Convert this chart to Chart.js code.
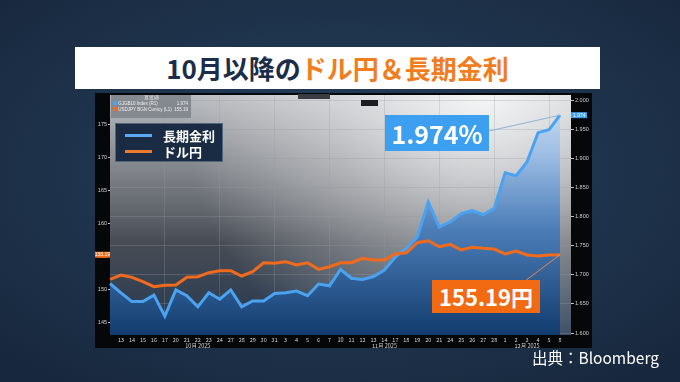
<!DOCTYPE html>
<html><head><meta charset="utf-8">
<script src="https://cdn.jsdelivr.net/npm/chart.js@4.4.1/dist/chart.umd.min.js"></script>
<style>
html,body{margin:0;padding:0;}
body{width:680px;height:382px;overflow:hidden;position:relative;
 background:radial-gradient(ellipse 75% 75% at 50% 45%, #26405d 0%, #1d3149 60%, #16263b 100%);
 font-family:'Noto Sans CJK JP','Noto Sans',sans-serif;}
.abs{position:absolute;}
#title{left:75px;top:47px;width:525px;height:42px;background:#fff;text-align:center;
 font-weight:700;font-size:26px;line-height:42px;color:#1c2d4a;letter-spacing:0px;}
#title .o{color:#f07d1e;}
#frame{left:95px;top:93px;width:497px;height:255px;background:#060709;}
#c{left:0;top:0;}
#bbg{left:111px;top:95px;width:80px;height:23px;background:rgba(128,133,140,0.92);color:#eee;font-family:'Liberation Sans',sans-serif;font-size:4.5px;line-height:6px;}
#lg{left:115px;top:123px;width:108px;height:39px;background:#1a2c44;border:1px solid #52657f;box-sizing:border-box;}
#lg .ln{position:absolute;left:9px;width:27px;height:2.5px;}
#lg .tx{position:absolute;left:47px;color:#fff;font-weight:700;font-size:13px;line-height:14px;}
#cb{left:385px;top:115px;width:104px;height:36px;background:#3d9ff0;color:#fff;font-weight:700;font-size:25px;line-height:36px;text-align:center;}
#co{left:432px;top:280px;width:108px;height:33px;background:#f26a12;color:#fff;font-weight:700;font-size:22px;line-height:33px;text-align:center;}
#src{left:532px;top:346px;color:#fff;font-size:15.5px;line-height:22px;}
</style></head>
<body>
<div id="title" class="abs">10月以降の<span class="o">ドル円＆長期金利</span></div>
<div id="frame" class="abs"></div>
<canvas id="c" class="abs" width="680" height="382"></canvas>
<div class="abs" style="left:298px;top:94px;width:32px;height:5px;background:#3a3c41;"></div>
<div class="abs" style="left:361px;top:100px;width:17px;height:6px;background:#1c1d20;"></div>
<div id="bbg" class="abs">
 <div style="text-align:center;">直近値</div>
 <div style="padding-left:2px;"><span style="display:inline-block;width:4px;height:4px;background:#4aa2f0;"></span> GJGB10 Index (R1)<span style="float:right;padding-right:3px;">1.974</span></div>
 <div style="padding-left:2px;"><span style="display:inline-block;width:4px;height:4px;background:#f26b1d;"></span> USDJPY BGN Curncy (L1)<span style="float:right;padding-right:3px;">155.19</span></div>
</div>
<div id="lg" class="abs">
 <div class="ln" style="top:10px;background:#5aaaf5;"></div>
 <div class="tx" style="top:5px;">長期金利</div>
 <div class="ln" style="top:26px;background:#ef7b2e;"></div>
 <div class="tx" style="top:21px;">ドル円</div>
</div>
<div id="cb" class="abs">1.974%</div>
<div id="co" class="abs">155.19円</div>
<div id="src" class="abs">出典：Bloomberg</div>
<script>
// ---- data ----
const categories = ['10/10','10/13','10/14','10/15','10/16','10/17','10/20','10/21','10/22','10/23','10/24','10/27','10/28','10/29','10/30','10/31',
 '11/3','11/4','11/5','11/6','11/7','11/10','11/11','11/12','11/13','11/14','11/17','11/18','11/19','11/20','11/21','11/24','11/25','11/26','11/27','11/28',
 '12/1','12/2','12/3','12/4','12/5','12/8',''];
const jgb10 = [1.685,1.669,1.654,1.654,1.665,1.629,1.674,1.664,1.645,1.669,1.658,1.674,1.645,1.655,1.655,1.668,
 1.669,1.672,1.664,1.684,1.681,1.709,1.694,1.692,1.697,1.708,1.731,1.745,1.765,1.825,1.782,1.791,1.805,1.810,1.803,1.814,
 1.875,1.870,1.894,1.944,1.949,1.974];
const usdjpy = [151.47,152.12,151.77,151.11,150.35,150.56,150.61,151.77,151.86,152.47,152.77,152.77,151.97,152.62,153.98,153.89,
 154.14,153.64,153.98,152.98,153.38,153.98,153.98,154.65,154.39,154.39,155.30,155.50,157.02,157.32,156.41,156.77,155.91,156.32,156.17,156.06,
 155.30,155.76,155.15,155.00,155.15,155.19];
const leftTicks = [145,150,155,160,165,170,175];
const rightTicks = [1.600,1.650,1.700,1.750,1.800,1.850,1.900,1.950,2.000];
const monthLabels = {'10/22':'10月 2025','11/14':'11月 2025','12/3':'12月 2025'};
const seriesNames = ['長期金利','ドル円'];

const xTickLabels = categories.map((c,i) => {
  if (!c || i === 0) return '';
  const d = c.split('/')[1];
  return monthLabels[c] ? [d, monthLabels[c]] : d;
});

const bgPlugin = {
  id:'bg',
  beforeDraw(chart){
    const {ctx, chartArea:a} = chart;
    ctx.save();
    const g = ctx.createLinearGradient(0,a.top,0,a.bottom);
    g.addColorStop(0,'#b8bbbf');
    g.addColorStop(0.35,'#7a7e84');
    g.addColorStop(0.62,'#474c54');
    g.addColorStop(1,'#243851');
    ctx.fillStyle = g;
    ctx.fillRect(a.left,a.top,a.right-a.left,a.bottom-a.top);
    const r = ctx.createRadialGradient(a.right-90,a.top,0,a.right-90,a.top,300);
    r.addColorStop(0,'rgba(255,255,255,0.85)');
    r.addColorStop(0.5,'rgba(255,255,255,0.4)');
    r.addColorStop(1,'rgba(255,255,255,0)');
    ctx.fillStyle = r;
    ctx.fillRect(a.left,a.top,a.right-a.left,a.bottom-a.top);
    ctx.restore();
  },
  afterDatasetsDraw(chart){
    const {ctx} = chart;
    const x = chart.scales.x, y = chart.scales.y, y1 = chart.scales.y1;
    const li = jgb10.length-1;
    const px = x.getPixelForValue(li);
    ctx.save();
    ctx.lineWidth = 1;
    ctx.strokeStyle = '#8fb3d8';
    ctx.beginPath(); ctx.moveTo(489,131); ctx.lineTo(px, y1.getPixelForValue(jgb10[li])); ctx.stroke();
    ctx.strokeStyle = '#e98a4c';
    ctx.beginPath(); ctx.moveTo(525,281); ctx.lineTo(px, y.getPixelForValue(usdjpy[li])); ctx.stroke();
    ctx.restore();
  },
  afterDraw(chart){
    const {ctx, chartArea:a} = chart;
    const li = jgb10.length-1;
    const yb = chart.scales.y1.getPixelForValue(jgb10[li]);
    const yo = chart.scales.y.getPixelForValue(usdjpy[li]);
    ctx.save();
    ctx.font = '5px "Liberation Sans"';
    ctx.textBaseline = 'middle';
    ctx.fillStyle = '#3d9ff0';
    ctx.fillRect(a.right, yb-3, 16, 6);
    ctx.fillStyle = '#fff'; ctx.textAlign='left';
    ctx.fillText(jgb10[li].toFixed(3), a.right+2, yb);
    ctx.fillStyle = '#f26a12';
    ctx.fillRect(a.left-15, yo-3, 15, 6);
    ctx.fillStyle = '#fff'; ctx.textAlign='center';
    ctx.fillText(usdjpy[li].toFixed(2), a.left-7.5, yo);
    ctx.restore();
  }
};

const ctx = document.getElementById('c').getContext('2d');
new Chart(ctx, {
  type:'line',
  data:{
    labels: categories,
    datasets:[
      {label:seriesNames[0], data:jgb10, yAxisID:'y1', borderColor:'#4aa3f2', borderWidth:3, pointRadius:0, tension:0,
       fill:'start', order:1,
       backgroundColor:(c)=>{
         const a = c.chart.chartArea; if(!a) return 'rgba(60,120,190,0.8)';
         const g = c.chart.ctx.createLinearGradient(0,a.top,0,a.bottom);
         g.addColorStop(0,'#d2e3f4');
         g.addColorStop(0.25,'#9cbde3');
         g.addColorStop(0.55,'#4d7fb9');
         g.addColorStop(1,'#123c6e');
         return g;
       }},
      {label:seriesNames[1], data:usdjpy, yAxisID:'y', borderColor:'#f26b1d', borderWidth:3, pointRadius:0, tension:0, fill:false, order:0}
    ]
  },
  options:{
    responsive:false, animation:false, devicePixelRatio:1,
    layout:{padding:{left:95,right:88,top:95,bottom:34}},
    plugins:{legend:{display:false}, tooltip:{enabled:false}},
    scales:{
      x:{type:'category', offset:false,
        grid:{drawTicks:false, color:(c)=> (c.index%5===0 && c.index>0 && c.index<42) ? 'rgba(150,155,160,0.28)' : 'rgba(0,0,0,0)'},
        border:{display:false},
        ticks:{autoSkip:false, maxRotation:0, minRotation:0, padding:2, color:'#d2d2d2',
          font:{size:5.5, family:'"Noto Sans CJK JP","Liberation Sans"', lineHeight:1.1},
          callback:(v,i)=>xTickLabels[i]},
        afterFit:(s)=>{s.height=13;}
      },
      y:{position:'left', min:143.03, max:179.4,
        afterBuildTicks:(s)=>{s.ticks = leftTicks.map(v=>({value:v}));},
        grid:{drawOnChartArea:false, drawTicks:true, tickLength:2, tickColor:'#c0c0c0'},
        border:{display:false},
        ticks:{color:'#d0d0d0', padding:1, font:{size:5.5, family:'"Liberation Sans"'}},
        afterFit:(s)=>{s.width=15;}
      },
      y1:{position:'right', min:1.5966, max:2.0086,
        afterBuildTicks:(s)=>{s.ticks = rightTicks.map(v=>({value:v}));},
        grid:{drawOnChartArea:true, color:'rgba(150,155,160,0.3)', drawTicks:true, tickLength:3, tickColor:'#c0c0c0'},
        border:{display:false},
        ticks:{color:'#d0d0d0', padding:1, font:{size:5.5, family:'"Liberation Sans"'}, callback:(v)=>Number(v).toFixed(3)},
        afterFit:(s)=>{s.width=21;}
      }
    }
  },
  plugins:[bgPlugin]
});
</script>
</body></html>
